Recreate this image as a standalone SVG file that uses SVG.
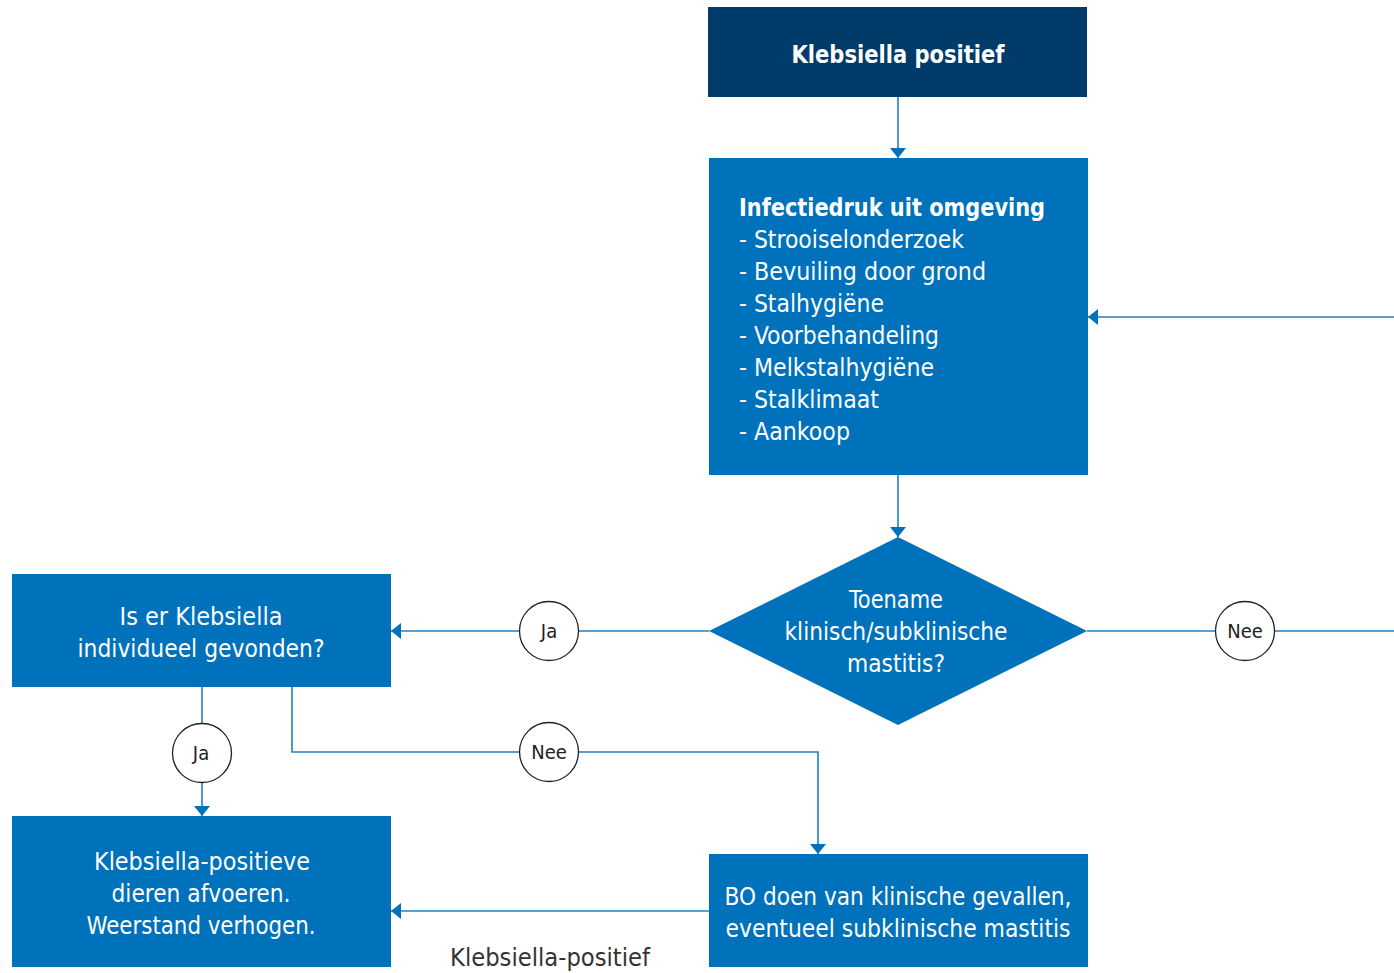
<svg xmlns="http://www.w3.org/2000/svg" width="1394" height="973" viewBox="0 0 1394 973">
<style>
.box{fill:#0071bb}
.dark{fill:#003b69}
.t{font-family:"DejaVu Sans Condensed","DejaVu Sans",sans-serif;font-size:24px;fill:#fff}
.b{font-weight:bold}
.c{text-anchor:middle}
.ln{fill:none;stroke:#1f7fc6;stroke-width:1.6}
.circ{fill:#fff;stroke:#222;stroke-width:1.3}
.lab{font-family:"DejaVu Sans Condensed","DejaVu Sans",sans-serif;font-size:20px;fill:#222;text-anchor:middle}
.dl{font-family:"DejaVu Sans Condensed","DejaVu Sans",sans-serif;font-size:24px;fill:#333;text-anchor:middle}
</style>
<defs>
<marker id="ah" viewBox="0 0 10 16" refX="10" refY="8" markerWidth="10" markerHeight="16" markerUnits="userSpaceOnUse" orient="auto">
<path d="M0,0 L10,8 L0,16 Z" fill="#0071bb"/>
</marker>
</defs>
<rect width="1394" height="973" fill="#fff"/>
<g id="connectors">
<path class="ln" d="M898,97 V158" marker-end="url(#ah)"/>
<path class="ln" d="M898,475 V537" marker-end="url(#ah)"/>
<path class="ln" d="M709,631 H391" marker-end="url(#ah)"/>
<path class="ln" d="M1087,631 H1394"/>
<path class="ln" d="M1394,317 H1088" marker-end="url(#ah)"/>
<path class="ln" d="M202,687 V816" marker-end="url(#ah)"/>
<path class="ln" d="M292,687 V752 H818 V854" marker-end="url(#ah)"/>
<path class="ln" d="M709,911 H391" marker-end="url(#ah)"/>
<g id="lbl-ja1"><circle class="circ" cx="549" cy="631" r="29.5"/><text class="lab" x="549" y="638">Ja</text></g>
<g id="lbl-nee1"><circle class="circ" cx="1245" cy="631" r="29.5"/><text class="lab" x="1245" y="638">Nee</text></g>
<g id="lbl-ja2"><circle class="circ" cx="202" cy="753" r="29.5"/><text class="lab" x="201" y="760">Ja</text></g>
<g id="lbl-nee2"><circle class="circ" cx="549" cy="752" r="29.5"/><text class="lab" x="549" y="759">Nee</text></g>
<text class="dl" x="550" y="966" textLength="200" lengthAdjust="spacingAndGlyphs">Klebsiella-positief</text>
</g>
<g id="n-start">
<rect class="dark" x="708" y="7" width="379" height="90"/>
<text class="t b c" x="898" y="63" textLength="213" lengthAdjust="spacingAndGlyphs">Klebsiella positief</text>
</g>
<g id="n-infectie">
<rect class="box" x="709" y="158" width="379" height="317"/>
<text class="t b" x="739" y="216" textLength="306" lengthAdjust="spacingAndGlyphs">Infectiedruk uit omgeving</text>
<text class="t" x="739" y="248" textLength="225" lengthAdjust="spacingAndGlyphs">- Strooiselonderzoek</text>
<text class="t" x="739" y="280" textLength="247" lengthAdjust="spacingAndGlyphs">- Bevuiling door grond</text>
<text class="t" x="739" y="312" textLength="145" lengthAdjust="spacingAndGlyphs">- Stalhygiëne</text>
<text class="t" x="739" y="344" textLength="200" lengthAdjust="spacingAndGlyphs">- Voorbehandeling</text>
<text class="t" x="739" y="376" textLength="195" lengthAdjust="spacingAndGlyphs">- Melkstalhygiëne</text>
<text class="t" x="739" y="408" textLength="140" lengthAdjust="spacingAndGlyphs">- Stalklimaat</text>
<text class="t" x="739" y="440" textLength="111" lengthAdjust="spacingAndGlyphs">- Aankoop</text>
</g>
<g id="n-toename">
<polygon class="box" points="898,537 1087,631 898,725 709,631"/>
<text class="t c" x="896" y="608" textLength="94" lengthAdjust="spacingAndGlyphs">Toename</text>
<text class="t c" x="896" y="640" textLength="223" lengthAdjust="spacingAndGlyphs">klinisch/subklinische</text>
<text class="t c" x="896" y="672" textLength="98" lengthAdjust="spacingAndGlyphs">mastitis?</text>
</g>
<g id="n-individueel">
<rect class="box" x="12" y="574" width="379" height="113"/>
<text class="t c" x="201" y="625" textLength="163" lengthAdjust="spacingAndGlyphs">Is er Klebsiella</text>
<text class="t c" x="201" y="657" textLength="247" lengthAdjust="spacingAndGlyphs">individueel gevonden?</text>
</g>
<g id="n-afvoeren">
<rect class="box" x="12" y="816" width="379" height="151"/>
<text class="t c" x="202" y="870" textLength="216" lengthAdjust="spacingAndGlyphs">Klebsiella-positieve</text>
<text class="t c" x="201" y="902" textLength="179" lengthAdjust="spacingAndGlyphs">dieren afvoeren.</text>
<text class="t c" x="201" y="934" textLength="229" lengthAdjust="spacingAndGlyphs">Weerstand verhogen.</text>
</g>
<g id="n-bo">
<rect class="box" x="709" y="854" width="379" height="113"/>
<text class="t c" x="898" y="905" textLength="347" lengthAdjust="spacingAndGlyphs">BO doen van klinische gevallen,</text>
<text class="t c" x="898" y="937" textLength="345" lengthAdjust="spacingAndGlyphs">eventueel subklinische mastitis</text>
</g>
</svg>
